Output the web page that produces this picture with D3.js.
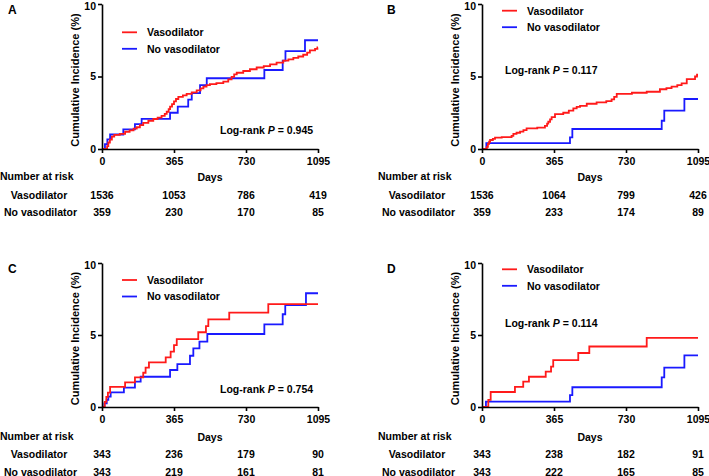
<!DOCTYPE html>
<html><head><meta charset="utf-8">
<script src="https://cdn.jsdelivr.net/npm/d3@7"></script>
<style>
body{margin:0;background:#fff;}
svg text{font-family:"Liberation Sans",Arial,Helvetica,sans-serif;font-weight:bold;fill:#000;}
</style></head>
<body><svg id="c" width="709" height="476"></svg>
<script>
// ---- data ----
const dayTicks = [0, 365, 730, 1095];
const yTicks = [0, 5, 10];
const panelLabels = ["A", "B", "C", "D"];
const seriesNames = ["Vasodilator", "No vasodilator"];
const pValues = ["0.945", "0.117", "0.754", "0.114"];

const riskVasoA = [1536, 1053, 786, 419];
const riskNoA = [359, 230, 170, 85];
const riskVasoB = [1536, 1064, 799, 426];
const riskNoB = [359, 233, 174, 89];
const riskVasoC = [343, 236, 179, 90];
const riskNoC = [343, 219, 161, 81];
const riskVasoD = [343, 238, 182, 91];
const riskNoD = [343, 222, 165, 85];

// [day, cumulative incidence %] step points
const vasoA = [[0,0],[22,0],[26,0.2],[32,0.45],[40,0.65],[50,0.85],[62,0.97],[90,1.05],[117,1.19],[140,1.28],[160,1.4],[176,1.5],[192,1.65],[209,1.8],[235,1.95],[260,2.07],[282,2.17],[302,2.28],[318,2.42],[328,2.57],[338,2.75],[345,2.92],[355,3.1],[365,3.28],[375,3.45],[387,3.6],[410,3.7],[429,3.8],[455,3.9],[480,4.05],[500,4.18],[514,4.3],[530,4.4],[547,4.48],[580,4.55],[615,4.64],[640,4.8],[657,4.98],[670,5.15],[683,5.26],[716,5.38],[750,5.5],[784,5.62],[820,5.72],[852,5.84],[885,5.96],[919,6.09],[945,6.18],[970,6.28],[995,6.38],[1020,6.5],[1040,6.65],[1054,6.8],[1080,6.9],[1092,7.0],[1095,7.0]];
const noVasoA = [[0,0],[15,0.34],[27,0.67],[41,1.0],[108,1.36],[167,1.72],[201,2.08],[345,2.5],[384,2.92],[437,3.4],[455,3.85],[497,4.4],[531,4.88],[823,5.45],[916,6.1],[930,6.75],[1029,7.5],[1095,7.5]];

const vasoB = [[0,0],[24,0.15],[30,0.35],[36,0.5],[41,0.62],[55,0.7],[66,0.78],[100,0.82],[150,0.9],[159,1.05],[175,1.12],[193,1.2],[210,1.3],[226,1.42],[280,1.48],[319,1.59],[330,1.75],[336,1.88],[345,2.05],[353,2.2],[370,2.4],[412,2.5],[440,2.65],[463,2.8],[480,2.9],[497,2.97],[531,3.12],[581,3.22],[630,3.3],[657,3.42],[670,3.6],[683,3.8],[760,3.88],[835,3.95],[902,4.12],[935,4.2],[961,4.3],[990,4.4],[1012,4.53],[1038,4.82],[1080,5.0],[1090,5.12],[1095,5.12]];
const noVasoB = [[0,0],[22,0.4],[446,0.8],[458,1.38],[911,1.95],[924,2.64],[1026,3.45],[1095,3.45]];

const vasoC = [[0,0],[14,0.35],[22,0.7],[30,1.0],[41,1.4],[117,1.71],[167,2.06],[209,2.38],[221,2.73],[238,3.1],[323,3.45],[348,3.84],[365,4.3],[379,4.72],[488,5.19],[527,5.62],[539,6.09],[645,6.55],[843,7.15],[1095,7.15]];
const noVasoC = [[0,0],[12,0.25],[24,0.49],[32,0.72],[44,1.02],[111,1.34],[167,1.76],[196,2.1],[345,2.57],[382,2.98],[446,3.56],[463,4.07],[494,4.54],[534,5.07],[823,5.74],[916,6.44],[929,7.08],[1034,7.9],[1095,7.9]];

const vasoD = [[0,0],[32,0.5],[44,1.04],[167,1.4],[209,1.76],[238,2.1],[323,2.45],[350,2.8],[361,3.26],[488,3.75],[544,4.2],[835,4.8],[1095,4.8]];
const noVasoD = [[0,0],[20,0.37],[446,0.83],[458,1.37],[911,2.06],[924,2.73],[1026,3.59],[1095,3.59]];

// ---- layout ----
const panels = [
  {label:panelLabels[0], vaso:vasoA, no:noVasoA, rv:riskVasoA, rn:riskNoA, p:pValues[0],
   x0:102, x1:318, yb:149, yt:4, legY:32.3, legX:122, pX:220, pY:134, rowY:[180,199,216], dx:0},
  {label:panelLabels[1], vaso:vasoB, no:noVasoB, rv:riskVasoB, rn:riskNoB, p:pValues[1],
   x0:482, x1:698, yb:149, yt:4, legY:10.7, legX:502, pX:505, pY:74, rowY:[180,199,216], dx:378},
  {label:panelLabels[2], vaso:vasoC, no:noVasoC, rv:riskVasoC, rn:riskNoC, p:pValues[2],
   x0:102, x1:318, yb:407, yt:263, legY:280, legX:122, pX:220, pY:393, rowY:[440,458,475.5], dx:0},
  {label:panelLabels[3], vaso:vasoD, no:noVasoD, rv:riskVasoD, rn:riskNoD, p:pValues[3],
   x0:482, x1:698, yb:407, yt:263, legY:269.3, legX:502, pX:505, pY:327, rowY:[440,458,475.5], dx:378}
];
const RED = "#ff1a1a", BLUE = "#1a1aff";
const FS = 10.5;
const svg = d3.select("#c");

panels.forEach(P => {
  const g = svg.append("g");
  const x = d3.scaleLinear().domain([0, 1095]).range([P.x0, P.x1]);
  const y = d3.scaleLinear().domain([0, 10]).range([P.yb, P.yt]);
  const line = d3.line().x(d => x(d[0])).y(d => y(d[1])).curve(d3.curveStepAfter);

  g.append("path").datum(P.no).attr("d", line).attr("fill","none").attr("stroke",BLUE).attr("stroke-width",1.8);
  g.append("path").datum(P.vaso).attr("d", line).attr("fill","none").attr("stroke",RED).attr("stroke-width",1.8);

  const xa = g.append("g").attr("transform",`translate(0,${P.yb})`)
    .call(d3.axisBottom(x).tickValues(dayTicks).tickFormat(d3.format("d")).tickSize(4).tickSizeOuter(0).tickPadding(5));
  const ya = g.append("g").attr("transform",`translate(${P.x0},0)`)
    .call(d3.axisLeft(y).tickValues(yTicks).tickFormat(d3.format("d")).tickSize(4).tickSizeOuter(0).tickPadding(2));
  [xa, ya].forEach(a => {
    a.selectAll("path,line").attr("stroke","#000").attr("stroke-width",1.6);
    a.selectAll("text").style("font-size", FS+"px").attr("fill","#000")
      .style("font-family",'"Liberation Sans",Arial,sans-serif').style("font-weight","bold");
  });
  ya.selectAll(".tick").filter(d => d === 10).select("text").attr("dy", "0.36em").attr("y", 1.5);

  // panel letter
  g.append("text").attr("x", 8 + P.dx + (P.dx ? 1 : 0)).attr("y", P.yt + 10).style("font-size","12px").text(P.label);

  // y title
  g.append("text").attr("transform",`translate(${P.x0 - 23},${(P.yt + P.yb)/2 + 3.5}) rotate(-90)`)
    .attr("text-anchor","middle").style("font-size","11px").text("Cumulative Incidence (%)");

  // legend
  [[RED, seriesNames[0], 0], [BLUE, seriesNames[1], 16.5]].forEach(([c, t, off]) => {
    g.append("line").attr("x1", P.legX).attr("x2", P.legX + 15)
      .attr("y1", P.legY + off).attr("y2", P.legY + off).attr("stroke", c).attr("stroke-width", 1.8);
    g.append("text").attr("x", P.legX + 25).attr("y", P.legY + off + 3.8).style("font-size", FS+"px").text(t);
  });

  // log-rank
  const lt = g.append("text").attr("x", P.pX).attr("y", P.pY).style("font-size", FS+"px");
  lt.append("tspan").text("Log-rank ");
  lt.append("tspan").style("font-style","italic").text("P");
  lt.append("tspan").text(" = " + P.p);

  // Days label
  g.append("text").attr("x", (P.x0 + P.x1)/2).attr("y", P.rowY[0] + 1).attr("text-anchor","middle")
    .style("font-size", FS+"px").text("Days");

  // number at risk
  g.append("text").attr("x", P.dx).attr("y", P.rowY[0]).style("font-size", FS+"px").text("Number at risk");
  g.append("text").attr("x", 39 + P.dx).attr("y", P.rowY[1]).attr("text-anchor","middle").style("font-size", FS+"px").text(seriesNames[0]);
  g.append("text").attr("x", 40.5 + P.dx).attr("y", P.rowY[2]).attr("text-anchor","middle").style("font-size", FS+"px").text(seriesNames[1]);
  P.rv.forEach((v, i) => g.append("text").attr("x", x(dayTicks[i])).attr("y", P.rowY[1]).attr("text-anchor","middle").style("font-size", FS+"px").text(v));
  P.rn.forEach((v, i) => g.append("text").attr("x", x(dayTicks[i])).attr("y", P.rowY[2]).attr("text-anchor","middle").style("font-size", FS+"px").text(v));
});
</script></body></html>
